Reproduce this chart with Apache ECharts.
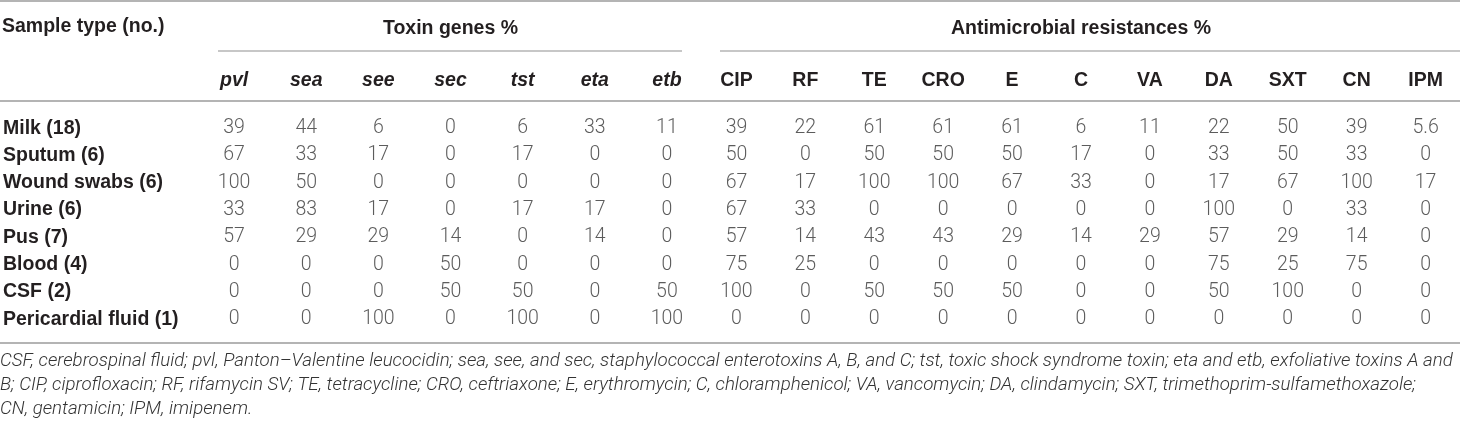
<!DOCTYPE html>
<html>
<head>
<meta charset="utf-8">
<script src="https://cdn.jsdelivr.net/npm/echarts@6/dist/echarts.min.js"></script>
<style>
  html, body { margin: 0; padding: 0; background: #fff; }
  #table { width: 1460px; height: 426px; }
</style>
</head>
<body>
<div id="table"></div>
<script>
  // table data
  var samples = ['Milk (18)', 'Sputum (6)', 'Wound swabs (6)', 'Urine (6)', 'Pus (7)',
    'Blood (4)', 'CSF (2)', 'Pericardial fluid (1)'];
  var toxinGenes = ['pvl', 'sea', 'see', 'sec', 'tst', 'eta', 'etb'];
  var antimicrobials = ['CIP', 'RF', 'TE', 'CRO', 'E', 'C', 'VA', 'DA', 'SXT', 'CN', 'IPM'];

  var toxinPct = [
    [39, 44, 6, 0, 6, 33, 11],
    [67, 33, 17, 0, 17, 0, 0],
    [100, 50, 0, 0, 0, 0, 0],
    [33, 83, 17, 0, 17, 17, 0],
    [57, 29, 29, 14, 0, 14, 0],
    [0, 0, 0, 50, 0, 0, 0],
    [0, 0, 0, 50, 50, 0, 50],
    [0, 0, 100, 0, 100, 0, 100]
  ];
  var resistancePct = [
    [39, 22, 61, 61, 61, 6, 11, 22, 50, 39, 5.6],
    [50, 0, 50, 50, 50, 17, 0, 33, 50, 33, 0],
    [67, 17, 100, 100, 67, 33, 0, 17, 67, 100, 17],
    [67, 33, 0, 0, 0, 0, 0, 100, 0, 33, 0],
    [57, 14, 43, 43, 29, 14, 29, 57, 29, 14, 0],
    [75, 25, 0, 0, 0, 0, 0, 75, 25, 75, 0],
    [100, 0, 50, 50, 50, 0, 0, 50, 100, 0, 0],
    [0, 0, 0, 0, 0, 0, 0, 0, 0, 0, 0]
  ];

  var footnote = [
    'CSF, cerebrospinal fluid; pvl, Panton\u2013Valentine leucocidin; sea, see, and sec, staphylococcal enterotoxins A, B, and C; tst, toxic shock syndrome toxin; eta and etb, exfoliative toxins A and',
    'B; CIP, ciprofloxacin; RF, rifamycin SV; TE, tetracycline; CRO, ceftriaxone; E, erythromycin; C, chloramphenicol; VA, vancomycin; DA, clindamycin; SXT, trimethoprim-sulfamethoxazole;',
    'CN, gentamicin; IPM, imipenem.'
  ];

  function cells(cols, rows) {
    var out = [];
    rows.forEach(function (row, r) {
      row.forEach(function (v, c) {
        out.push([cols[c], samples[r], v]);
      });
    });
    return out;
  }

  var ink = '#231f20';
  var rule = '#b4b4b4';
  var headFont = 'Liberation Sans, Arial, sans-serif';
  var numFont = 'Roboto, Liberation Sans, sans-serif';
  var fs = 19.5;

  var cellSeries = function (idx, data) {
    return {
      type: 'scatter',
      xAxisIndex: idx,
      yAxisIndex: idx,
      symbol: 'rect',
      symbolSize: 1,
      itemStyle: { color: 'rgba(0,0,0,0)' },
      label: {
        show: true,
        position: 'inside',
        color: '#333',
        fontFamily: numFont,
        fontWeight: 300,
        fontSize: fs,
        formatter: function (p) { return p.value[2]; }
      },
      data: data
    };
  };

  var chart = echarts.init(document.getElementById('table'));

  chart.setOption({
    animation: false,
    grid: [
      { left: 197, top: 114.5, width: 506, height: 218.4 },
      { left: 702, top: 114.5, width: 770, height: 218.4 }
    ],
    xAxis: [{
      gridIndex: 0,
      type: 'category',
      position: 'top',
      data: toxinGenes,
      axisLine: { show: false },
      axisTick: { show: false },
      axisLabel: {
        margin: 34, verticalAlign: 'middle', color: ink,
        fontFamily: headFont, fontWeight: 'bold', fontStyle: 'italic', fontSize: fs
      },
      name: 'Toxin genes %',
      nameLocation: 'middle',
      nameGap: 86,
      nameTextStyle: { color: ink, fontFamily: headFont, fontWeight: 'bold', fontSize: fs, verticalAlign: 'middle' }
    }, {
      gridIndex: 1,
      type: 'category',
      position: 'top',
      data: antimicrobials,
      axisLine: { show: false },
      axisTick: { show: false },
      axisLabel: {
        margin: 34, verticalAlign: 'middle', color: ink,
        fontFamily: headFont, fontWeight: 'bold', fontSize: fs
      },
      name: 'Antimicrobial resistances %',
      nameLocation: 'middle',
      nameGap: 86,
      nameTextStyle: { color: ink, fontFamily: headFont, fontWeight: 'bold', fontSize: fs, verticalAlign: 'middle' }
    }],
    yAxis: [{
      gridIndex: 0,
      type: 'category',
      inverse: true,
      data: samples,
      axisLine: { show: false },
      axisTick: { show: false },
      splitLine: { show: false },
      axisLabel: {
        margin: 195, align: 'left', color: ink,
        fontFamily: headFont, fontWeight: 'bold', fontSize: fs
      }
    }, {
      gridIndex: 1,
      type: 'category',
      inverse: true,
      data: samples,
      axisLine: { show: false },
      axisTick: { show: false },
      splitLine: { show: false },
      axisLabel: { show: false }
    }],
    series: [
      cellSeries(0, cells(toxinGenes, toxinPct)),
      cellSeries(1, cells(antimicrobials, resistancePct))
    ],
    graphic: [
      { type: 'line', shape: { x1: 0, y1: 1, x2: 1460, y2: 1 }, style: { stroke: rule, lineWidth: 2 } },
      { type: 'line', shape: { x1: 218, y1: 51, x2: 682, y2: 51 }, style: { stroke: rule, lineWidth: 1.6 } },
      { type: 'line', shape: { x1: 720, y1: 51, x2: 1460, y2: 51 }, style: { stroke: rule, lineWidth: 1.6 } },
      { type: 'line', shape: { x1: 0, y1: 101, x2: 1460, y2: 101 }, style: { stroke: rule, lineWidth: 2 } },
      { type: 'line', shape: { x1: 0, y1: 343, x2: 1460, y2: 343 }, style: { stroke: rule, lineWidth: 2 } },
      {
        type: 'text', left: 2, top: 17,
        style: { text: 'Sample type (no.)', fill: ink, font: 'bold ' + fs + 'px ' + headFont }
      }
    ].concat(footnote.map(function (line, i) {
      return {
        type: 'text', left: 0, top: 352 + i * 24,
        style: { text: line, fill: '#333', font: 'italic 300 18.7px ' + numFont }
      };
    }))
  });
</script>
</body>
</html>
